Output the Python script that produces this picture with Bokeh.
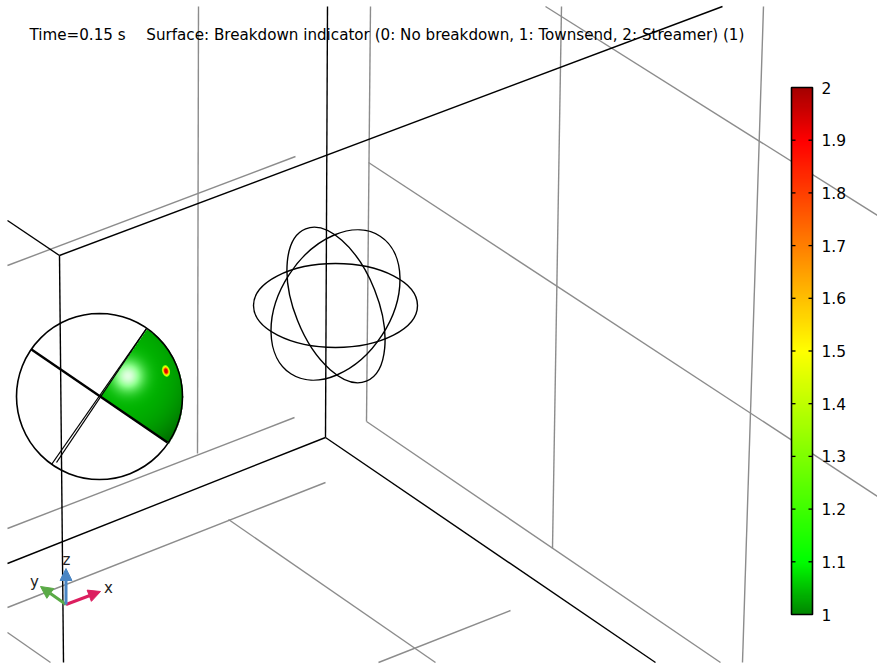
from bokeh.plotting import figure
from bokeh.models import Range1d, LinearColorMapper, ColorBar, FixedTicker, Arrow, NormalHead
from bokeh.core.properties import value
from bokeh.embed import file_html
from bokeh.resources import INLINE
import numpy as np

# --- scene values (picture pixels) ---
black_x0 = [7, 59, 59, 327, 325, 325]
black_y0 = [220, 255, 255, 6, 437, 437]
black_x1 = [59, 722, 63, 325, 7, 655]
black_y1 = [255, 6, 662, 437, 563, 662]

gray_x0 = [198, 7, 370, 368, 366, 545, 561, 763, 7, 7, 228, 510, 7]
gray_y0 = [6, 265, 6, 162, 421, 6, 6, 6, 528, 607, 519, 610, 632]
gray_x1 = [197, 295, 366, 877, 720, 877, 552, 742, 294, 325, 435, 378, 50]
gray_y1 = [453, 156, 421, 496, 662, 215, 548, 662, 417, 482, 662, 662, 662]

oval_x = [335, 335.5, 335]
oval_y = [305, 304.5, 304.5]
oval_w = [164, 164, 164]
oval_h = [84, 83, 111]
oval_deg = [0, -68.3, 57]

sphere_x, sphere_y, sphere_d = 99, 396, 166
cut_x0 = [31, 146, 146]
cut_y0 = [349, 328, 328]
cut_x1 = [167, 56, 51]
cut_y1 = [442, 462, 464]
cut_w = [2.4, 1.3, 1.3]

spot_v = [1.3, 1.5, 1.72, 1.93]
spot_w = [8, 6.5, 5, 3.5]
spot_h = [12, 10, 7.5, 5]
spot_x, spot_y = 165.5, 370.5

title_texts = ["Time=0.15 s", "Surface: Breakdown indicator (0: No breakdown, 1: Townsend, 2: Streamer) (1)"]
title_x = [29, 145.8]
title_y = [34, 34]

bar_ticks = [1, 1.1, 1.2, 1.3, 1.4, 1.5, 1.6, 1.7, 1.8, 1.9, 2]
bar_labels = ["1", "1.1", "1.2", "1.3", "1.4", "1.5", "1.6", "1.7", "1.8", "1.9", "2"]
stop_v = [1.0, 1.1, 1.5, 1.9, 2.0]
stop_r = [0, 0, 255, 255, 165]
stop_g = [135, 255, 255, 0, 0]
stop_b = [0, 0, 0, 0, 0]

axis_names = ["x", "y", "z"]
axis_tip_x = [100, 40, 65.5]
axis_tip_y = [591, 586, 568]
axis_colors = ["#dc1e5f", "#5aaa46", "#4a86c4"]
axis_label_x = [108, 34, 66]
axis_label_y = [587, 581, 559]
axis_origin = (65.5, 604)

W, H = 877, 665
BAR_L, BAR_R, BAR_T, BAR_B = 791, 812, 87, 614
p = figure(width=W, height=H, output_backend="svg", toolbar_location=None,
           x_range=Range1d(0, W), y_range=Range1d(H, 0), min_border=0)
p.axis.visible = False
p.grid.visible = False
p.outline_line_color = None

p.segment(gray_x0, gray_y0, gray_x1, gray_y1, line_color="#8c8c8c", line_width=1.4)
p.segment(black_x0, black_y0, black_x1, black_y1, line_color="black", line_width=1.4)

# shaded wedge of the sphere
xs, ys = np.meshgrid(np.arange(90, 186, 0.5), np.arange(320, 450, 0.5))
inside = (xs - sphere_x) ** 2 + (ys - sphere_y) ** 2 <= (sphere_d / 2) ** 2
side_a = (cut_x1[0] - cut_x0[0]) * (ys - cut_y0[0]) - (cut_y1[0] - cut_y0[0]) * (xs - cut_x0[0]) < 0
side_b = (cut_x1[2] - cut_x0[2]) * (ys - cut_y0[2]) - (cut_y1[2] - cut_y0[2]) * (xs - cut_x0[2]) < 0
mask = inside & side_a & side_b
hl = np.hypot(xs - 127, ys - 375)
spec = np.exp(-(hl / 15.0) ** 2)
rim = np.clip(np.hypot(xs - 118, ys - 375) / 83.0, 0, 1)
g = 185 - 80 * rim ** 3
red = 225 * spec
green = g + (255 - g) * np.clip(spec * 1.6, 0, 1)
blue = 225 * spec
rgba = np.zeros(xs.shape + (4,), dtype=np.uint8)
rgba[..., 0] = red
rgba[..., 1] = green
rgba[..., 2] = blue
rgba[..., 3] = mask * 255
img = rgba.view(np.uint32).reshape(xs.shape)
p.image_rgba(image=[img], x=90, y=320, dw=96, dh=130)

palette_v = np.linspace(1, 2, 256)
palette = ["#%02x%02x%02x" % (int(r), int(g_), int(b)) for r, g_, b in zip(
    np.interp(palette_v, stop_v, stop_r), np.interp(palette_v, stop_v, stop_g), np.interp(palette_v, stop_v, stop_b))]
mapper = LinearColorMapper(palette=palette, low=1, high=2)

spot_colors = [palette[int((v - 1) * 255)] for v in spot_v]
p.ellipse([spot_x] * 4, [spot_y] * 4, width=spot_w, height=spot_h, angle=np.radians(15),
          fill_color=spot_colors, line_color=None)

p.ellipse([sphere_x], [sphere_y], width=sphere_d, height=sphere_d, fill_alpha=0, line_color="black", line_width=1.6)
p.segment(cut_x0, cut_y0, cut_x1, cut_y1, line_color="black", line_width=cut_w)
p.ellipse(oval_x, oval_y, width=oval_w, height=oval_h, angle=np.radians(oval_deg), fill_alpha=0,
          line_color="black", line_width=1.4)

# orientation triad
for tx, ty, c in zip(axis_tip_x, axis_tip_y, axis_colors):
    p.add_layout(Arrow(end=NormalHead(size=12, fill_color=c, line_color=c), x_start=axis_origin[0], y_start=axis_origin[1],
                       x_end=tx, y_end=ty, line_color=c, line_width=3))
p.text(axis_label_x, axis_label_y, text=axis_names, text_font=value("DejaVu Sans"), text_font_size="15px",
       text_align="center", text_baseline="middle", text_color="#222222")

p.text(title_x, title_y, text=title_texts, text_font=value("DejaVu Sans"), text_font_size="15.15px",
       text_baseline="middle", text_color="black")

bar = ColorBar(color_mapper=mapper, ticker=FixedTicker(ticks=bar_ticks),
               major_label_overrides={t: l for t, l in zip(bar_ticks, bar_labels)},
               width=BAR_R - BAR_L, height=BAR_B - BAR_T, location=(BAR_L, H - BAR_B), padding=0, margin=0,
               background_fill_alpha=0, border_line_color=None, bar_line_color="black", bar_line_width=1.6,
               major_tick_line_color=None, minor_tick_line_color=None,
               label_standoff=9, major_label_text_font="DejaVu Sans", major_label_text_font_size="15.5px",
               major_label_text_color="black")
p.add_layout(bar, "center")

tick_y = [BAR_B - (BAR_B - BAR_T) * (t - 1) for t in bar_ticks[1:-1]]
p.segment([BAR_L] * 9, tick_y, [BAR_L + 4] * 9, tick_y, line_color="black", line_width=1.3, level="overlay")
p.segment([BAR_R - 4] * 9, tick_y, [BAR_R] * 9, tick_y, line_color="black", line_width=1.3, level="overlay")

open("out.html", "w").write(file_html(p, INLINE))
